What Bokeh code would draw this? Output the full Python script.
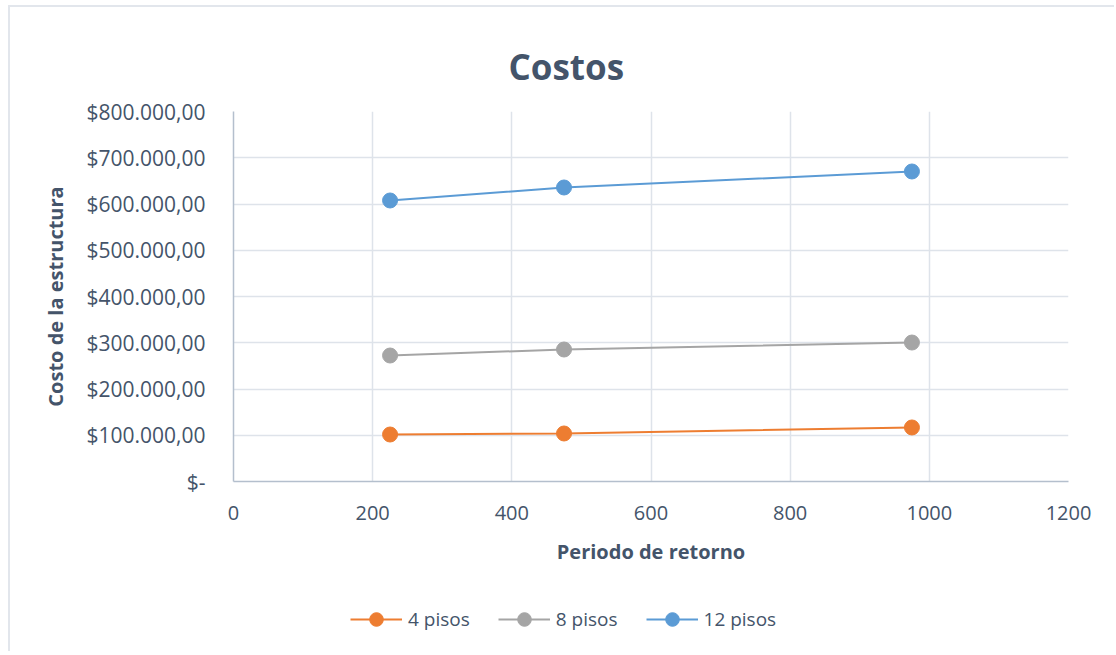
from bokeh.plotting import figure
from bokeh.layouts import column
from bokeh.models import FixedTicker, CustomJSTickFormatter, Legend, LegendItem, Range1d, Title
from bokeh.embed import file_html
from bokeh.resources import INLINE

periodo = [225, 475, 975]
pisos4 = [101600, 103800, 116800]
pisos8 = [272400, 285400, 300500]
pisos12 = [607600, 635700, 670300]
series_names = ["4 pisos", "8 pisos", "12 pisos"]
colors = ["#ED7D31", "#A5A5A5", "#5B9BD5"]
x_ticks = [0, 200, 400, 600, 800, 1000, 1200]
y_ticks = [0, 100000, 200000, 300000, 400000, 500000, 600000, 700000, 800000]

FONT = "Open Sans"
TXT = "#44546A"

p = figure(frame_width=835, frame_height=370, output_backend="svg", toolbar_location=None,
           x_range=Range1d(0, 1200), y_range=Range1d(0, 800000),
           min_border_left=223, min_border_right=46, min_border_top=104, min_border_bottom=100)
p.outline_line_color = None
p.border_fill_color = "white"

p.title = Title(text="Costos", align="left", text_font=FONT, text_font_size="35px",
                text_font_style="bold", text_color=TXT, offset=275, standoff=44)

for ax in [p.xaxis[0], p.yaxis[0]]:
    ax.axis_line_color = "#B4BFCD"
    ax.axis_line_width = 1.5
    ax.major_tick_line_color = None
    ax.minor_tick_line_color = None
    ax.major_label_text_font = FONT
    ax.major_label_text_color = TXT
    ax.axis_label_text_font = FONT
    ax.axis_label_text_font_size = "20px"
    ax.axis_label_text_font_style = "bold"
    ax.axis_label_text_color = TXT

p.xaxis.major_label_text_font_size = "20px"
p.yaxis.major_label_text_font_size = "21px"
p.xaxis.ticker = FixedTicker(ticks=x_ticks)
p.yaxis.ticker = FixedTicker(ticks=y_ticks)
p.yaxis.formatter = CustomJSTickFormatter(code="""
if (tick == 0) { return '$-'; }
var s = Math.round(tick).toString().replace(/\\B(?=(\\d{3})+(?!\\d))/g, '.');
return '$' + s + ',00';
""")
p.xaxis.major_label_standoff = 18
p.yaxis.major_label_standoff = 22
p.xaxis.axis_label = "Periodo de retorno"
p.yaxis.axis_label = "Costo de la estructura"
p.xaxis.axis_label_standoff = 15
p.yaxis.axis_label_standoff = 14

p.xgrid.grid_line_color = "#DEE3EA"
p.ygrid.grid_line_color = "#DEE3EA"
p.xgrid.grid_line_width = 1.5
p.ygrid.grid_line_width = 1.5

for ys, c in zip([pisos4, pisos8, pisos12], colors):
    p.line(periodo, ys, line_color=c, line_width=2)
    p.scatter(periodo, ys, size=15, fill_color=c, line_color=c)

# legend strip: same series drawn outside its visible range, only the legend shows
leg = figure(width=1104, height=70, output_backend="svg", toolbar_location=None,
             x_range=Range1d(5000, 6000), y_range=Range1d(5e6, 6e6),
             min_border=0)
leg.axis.visible = False
leg.grid.visible = False
leg.outline_line_color = None
items = []
for name, ys, c in zip(series_names, [pisos4, pisos8, pisos12], colors):
    l = leg.line(periodo, ys, line_color=c, line_width=2)
    s = leg.scatter(periodo, ys, size=15, fill_color=c, line_color=c)
    items.append(LegendItem(label=name, renderers=[l, s]))

legend = Legend(items=items, orientation="horizontal", location=(117, 15),
                label_text_font=FONT, label_text_font_size="19px", label_text_color=TXT,
                border_line_color=None, background_fill_alpha=0, glyph_width=52,
                glyph_height=34, spacing=28, label_standoff=6, padding=0, margin=0)
leg.add_layout(legend, "center")

layout = column(p, leg, spacing=0)
layout.styles = {"margin-left": "8px", "margin-top": "5px",
                 "border-left": "2px solid #E2E6EC", "border-top": "2px solid #E2E6EC"}

open("out.html", "w").write(file_html(layout, INLINE))
